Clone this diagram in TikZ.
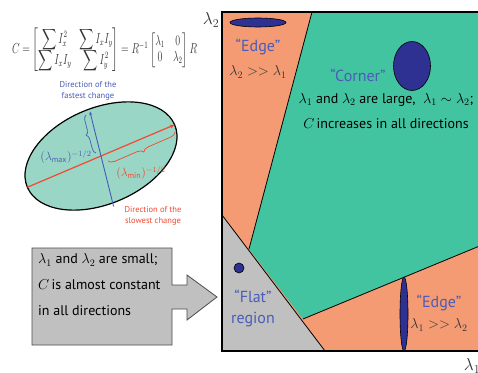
\documentclass[tikz,border=0pt]{standalone}
\usepackage{fontspec}
\setmainfont{PT Sans}
\usepackage{amsmath}
\usetikzlibrary{decorations.pathreplacing,arrows.meta,calc}
\definecolor{orng}{HTML}{F49B73}
\definecolor{grn}{HTML}{43C4A0}
\definecolor{lgrn}{HTML}{9AD6C6}
\definecolor{dblue}{HTML}{2E3192}
\definecolor{tblue}{HTML}{4A5CB8}
\definecolor{rred}{HTML}{F04A32}
\definecolor{gry}{HTML}{C0C0C0}
\definecolor{txt}{HTML}{333333}
\tikzset{
  region/.style={line width=0.8pt, draw=black},
  blob/.style={fill=dblue, draw=black, line width=0.6pt},
  lbl/.style={text=tblue, font=\fontsize{16}{18}\selectfont, inner sep=0pt},
  cond/.style={text=txt, font=\fontsize{14}{16}\selectfont, inner sep=0pt},
  small/.style={font=\fontsize{8.5}{10.5}\selectfont, align=center, inner sep=0pt},
  axis/.style={text=txt, font=\fontsize{17}{19}\selectfont, inner sep=0pt}
}
\begin{document}
\begin{tikzpicture}[x=1pt,y=1pt]
\useasboundingbox (0,0) rectangle (478,372);
\fill[white] (0,0) rectangle (478,372);
% ---------- right diagram ----------
\coordinate (bl) at (222,21);
\coordinate (tr) at (482,360);
\fill[orng] (bl) rectangle (tr);
\coordinate (g1) at (312,360);
\coordinate (g2) at (249,123);
\coordinate (g3) at (303,53);
\coordinate (g4) at (482,127);
\fill[grn] (g1) -- (482,360) -- (g4) -- (g3) -- (g2) -- cycle;
\draw[region] (g1) -- (g2);
\draw[region] (g3) -- (g4);
\coordinate (f1) at (222,157);
\coordinate (f2) at (325,21);
\fill[gry] (f1) -- (f2) -- (bl) -- cycle;
\draw[region] (f1) -- (f2);
\draw[line width=1.2pt] (bl) rectangle (tr);
% blobs
\filldraw[blob] (258,349.5) ellipse [x radius=28, y radius=4.5];
\filldraw[blob] (412,306) ellipse [x radius=18.5, y radius=24.5];
\filldraw[blob] (239,104) circle [radius=5];
\filldraw[blob] (404,58) ellipse [x radius=4, y radius=37];
% texts
\node[lbl] (edge1) at (258,325) {``Edge''};
\node[cond] (edge1c) at (258,300) {$\lambda_2 >> \lambda_1$};
\node[lbl] (corner) at (358,297) {``Corner''};
\node[cond, text=black] (corner1) at (386,272) {$\lambda_1$ and $\lambda_2$ are large,\ \ $\lambda_1 \sim \lambda_2$;};
\node[cond, text=black] (corner2) at (386,248) {$C$\,increases in all directions};
\node[lbl] (flat1) at (253,76) {``Flat''};
\node[lbl] (flat2) at (253,52) {region};
\node[lbl] (edge2) at (439,69) {``Edge''};
\node[cond] (edge2c) at (439,47) {$\lambda_1 >> \lambda_2$};
\node[axis] (ax2) at (211,352) {$\lambda_2$};
\node[axis] (ax1) at (472,6) {$\lambda_1$};
% ---------- formula ----------
\node[text=txt, font=\fontsize{11.5}{13.5}\selectfont, inner sep=0pt] (formula) at (104.5,322)
 {\resizebox*{185pt}{44pt}{$\setlength\arraycolsep{5pt}C=\begin{bmatrix}\displaystyle\sum I_x^2 & \displaystyle\sum I_xI_y\\[-2pt] \displaystyle\sum I_xI_y & \displaystyle\sum I_y^2\end{bmatrix}=R^{-1}\begin{bmatrix}\lambda_1 & 0\\ 0 & \lambda_2\end{bmatrix}R$}};
% ---------- ellipse ----------
\coordinate (c) at (101,216);
\draw[fill=lgrn, line width=1.2pt, rotate around={23:(c)}] (c) ellipse [x radius=80, y radius=48];
\coordinate (rA) at ($(c)+(203:80)$);
\coordinate (rB) at ($(c)+(23:80)$);
\coordinate (bA) at ($(c)+(-76:52)$);
\coordinate (bB) at ($(c)+(104:46)$);
\draw[rred, line width=1.2pt, -{Stealth[length=5pt,width=4pt]}] (rA) -- (rB);
\draw[tblue, line width=0.9pt, -{Stealth[length=4pt,width=3pt]}] (bA) -- (bB);
\draw[tblue, line width=0.7pt, decorate, decoration={brace, amplitude=5pt}] (96,219) -- (86,257);
\draw[rred, line width=0.7pt, decorate, decoration={brace, amplitude=6pt}] (175,240) -- (108,211);
\node[text=tblue, font=\fontsize{11.5}{13.5}\selectfont, inner sep=0pt] (lmax) at (66,215) {$(\lambda_{\max})^{-1/2}$};
\node[text=rred, font=\fontsize{11.5}{13.5}\selectfont, inner sep=0pt] (lmin) at (141,199) {$(\lambda_{\min})^{-1/2}$};
\node[small, text=tblue] (fast) at (88,281) {Direction of the\\fastest change};
\node[small, text=rred] (slow) at (153,156) {Direction of the\\slowest change};
% ---------- gray arrow box ----------
\draw[fill=gry, draw=black!70, line width=0.8pt] (32,124) -- (172,124) -- (172,87) -- (187,87) -- (187,97) -- (217,75) -- (187,52) -- (187,63) -- (172,63) -- (172,27) -- (32,27) -- cycle;
\node[cond, text=black, anchor=west] (s1) at (38,112) {$\lambda_1$ and $\lambda_2$ are small;};
\node[cond, text=black, anchor=west] (s2) at (38,87) {$C$\,is almost constant};
\node[cond, text=black, anchor=west] (s3) at (38,61) {in all directions};
\end{tikzpicture}
\end{document}
